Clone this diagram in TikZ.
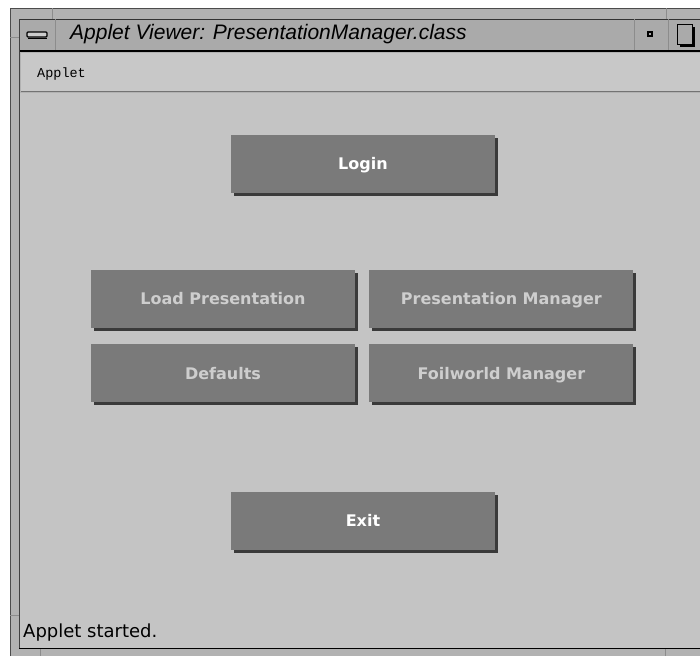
\documentclass[tikz,border=0pt]{standalone}
\usepackage{fontspec}
\setmainfont{DejaVu Sans}
\newfontfamily\titlefont{Liberation Sans}
\newfontfamily\menufont{Liberation Mono}
\usetikzlibrary{positioning,shadows}
\definecolor{winbg}{RGB}{196,196,196}
\definecolor{framebg}{RGB}{178,178,178}
\definecolor{titlebg}{RGB}{170,170,170}
\definecolor{menubg}{RGB}{200,200,200}
\definecolor{btnfill}{RGB}{122,122,122}
\definecolor{btnshade}{RGB}{58,58,58}
\definecolor{btnoff}{RGB}{206,206,206}

\begin{document}
\begin{tikzpicture}[x=1pt,y=-1pt,
node distance=16pt and 14pt,
btn/.style={fill=btnfill,minimum width=264pt,minimum height=58pt,inner sep=0pt,
  text height=11.5pt,text depth=0pt,
  font=\fontsize{16}{18}\selectfont\bfseries,text=white,
  drop shadow={shadow xshift=3pt,shadow yshift=-3pt,fill=btnshade,opacity=1}},
off/.style={btn,text=btnoff},
lbl/.style={anchor=west,inner sep=0pt},
sep/.style={draw=black!45,line width=0.8pt}]
\useasboundingbox (0,0) rectangle (700,656);
\fill[white] (0,0) rectangle (700,656);
\fill[framebg] (10,8) rectangle (700,656);
\draw[black!70] (10.5,656) -- (10.5,8.5) -- (700,8.5);
\draw[sep] (52,8) -- (52,19) (666,8) -- (666,19) (10,37) -- (19,37) (10,615) -- (19,615)
  (40,649) -- (40,656) (665,649) -- (665,656);
\fill[titlebg] (19,19) rectangle (700,50);
\draw[black!80] (19,19) -- (700,19);
\draw[line width=1.5pt] (19,51) -- (700,51);
\draw[sep] (55,19) -- (55,50) (634,19) -- (634,50) (668,19) -- (668,50);
\fill[menubg] (21,53) rectangle (700,91);
\draw[black!55,line width=1.5pt] (21,91.5) -- (700,91.5);
\fill[winbg] (20,93) rectangle (700,648);
\draw[black!75] (19.5,19) -- (19.5,649);
\draw[line width=1.2pt] (19,648.5) -- (700,648.5);
\draw[line width=1.2pt,fill=black!20,rounded corners=1pt] (27,32) rectangle (47,37);
\draw[line width=1.5pt] (28,38.5) -- (47,38.5);
\draw[line width=1.2pt,fill=titlebg] (648,32) rectangle (652,36);
\fill[black] (680,27) rectangle (695,47);
\draw[line width=1pt,fill=titlebg] (677.5,24.5) rectangle (692.5,44.5);
\node[lbl,font=\titlefont\itshape\fontsize{21}{23}\selectfont] (title) at (70,34) {Applet Viewer: PresentationManager.class};
\node[lbl,font=\menufont\fontsize{13.5}{15}\selectfont] (menu) at (37,74) {Applet};
\node[btn] (login) at (363,163.5) {Login};
\node[off] (load) at (223,299) {Load Presentation};
\node[off,right=of load] (presmgr) {Presentation Manager};
\node[off,below=of load] (defaults) {Defaults};
\node[off,below=of presmgr] (foilmgr) {Foilworld Manager};
\node[btn] (exit) at (363,521) {Exit};
\node[lbl,font=\fontsize{18}{20}\selectfont] (status) at (23,633) {Applet started.};
\end{tikzpicture}
\end{document}
